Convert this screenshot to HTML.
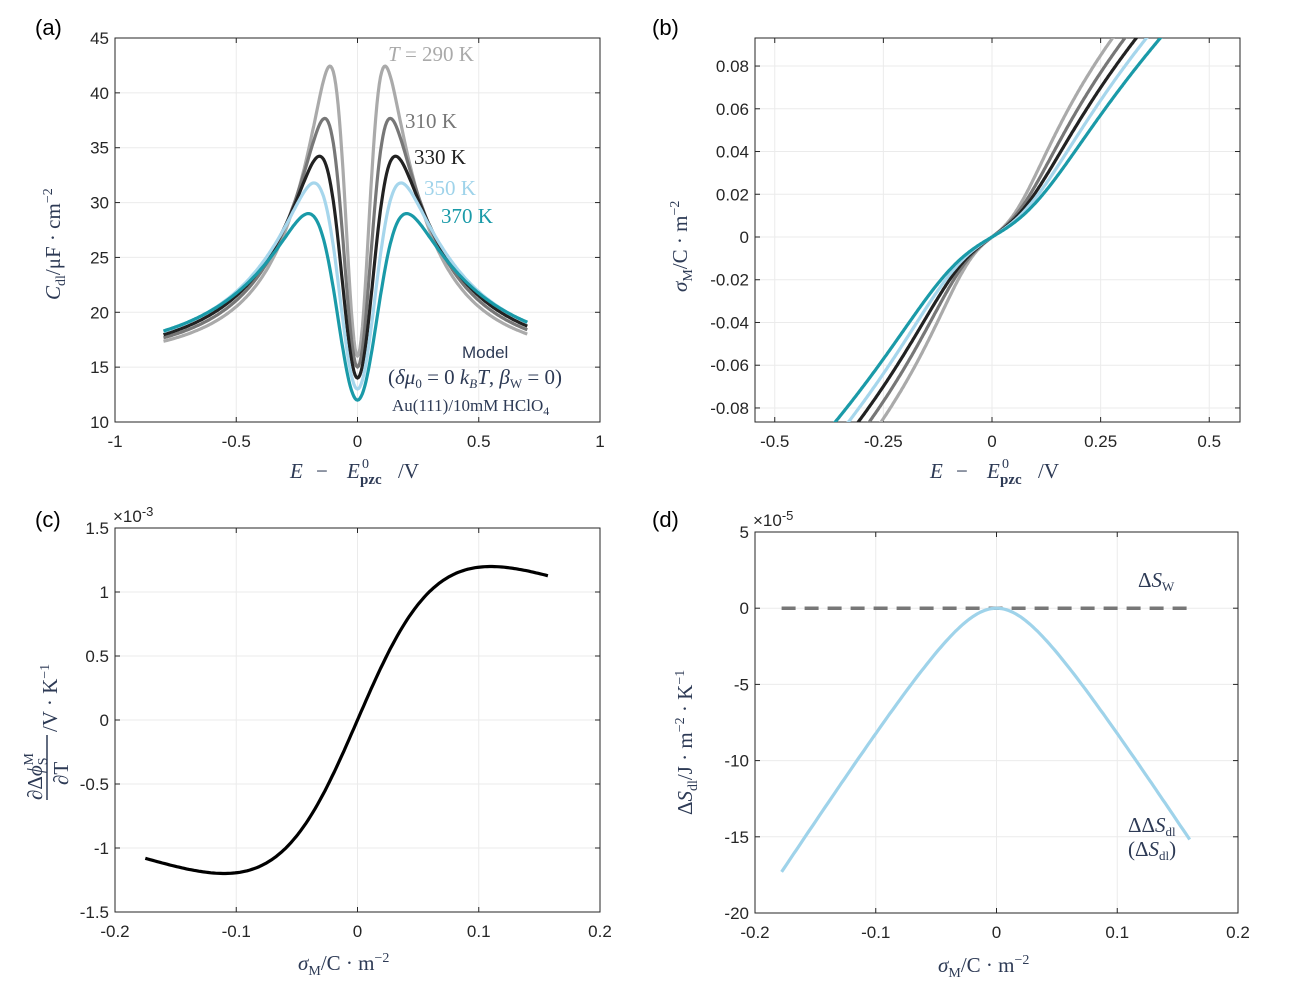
<!DOCTYPE html>
<html><head><meta charset="utf-8"><style>
body{margin:0;background:#fff;}
svg{display:block;font-family:"Liberation Sans",sans-serif;}
.t{font-size:17px;fill:#262626;}
.s{font-family:"Liberation Serif",serif;font-size:21px;fill:#2d3a55;}
.p{font-size:22px;fill:#000;}
</style></head><body>
<svg id="g" width="1301" height="991" viewBox="0 0 1301 991" xmlns="http://www.w3.org/2000/svg">
<text class="p" x="35" y="35">(a)</text>
<text class="p" x="652" y="35">(b)</text>
<text class="p" x="35" y="527">(c)</text>
<text class="p" x="652" y="527">(d)</text>
<g class="s">
<text x="290" y="478" font-style="italic">E</text><text x="316" y="478">−</text><text x="347" y="478" font-style="italic">E</text>
<text x="362" y="468" font-size="14">0</text><text x="360" y="484" font-size="15" font-weight="bold">pzc</text><text x="398" y="478">/V</text>
</g>
<g class="s">
<text x="930" y="478" font-style="italic">E</text><text x="956" y="478">−</text><text x="987" y="478" font-style="italic">E</text>
<text x="1002" y="468" font-size="14">0</text><text x="1000" y="484" font-size="15" font-weight="bold">pzc</text><text x="1038" y="478">/V</text>
</g>
<text class="s" transform="translate(60,300) rotate(-90)"><tspan font-style="italic">C</tspan><tspan font-size="14" dy="5">dl</tspan><tspan dy="-5">/μF · cm</tspan><tspan font-size="14" dy="-8">−2</tspan></text>
<text class="s" transform="translate(687,292) rotate(-90)"><tspan font-style="italic">σ</tspan><tspan font-size="14" dy="5">M</tspan><tspan dy="-5">/C · m</tspan><tspan font-size="14" dy="-8">−2</tspan></text>
<text class="s" x="298" y="970"><tspan font-style="italic">σ</tspan><tspan font-size="14" dy="5">M</tspan><tspan dy="-5">/C · m</tspan><tspan font-size="14" dy="-8">−2</tspan></text>
<text class="s" x="938" y="972"><tspan font-style="italic">σ</tspan><tspan font-size="14" dy="5">M</tspan><tspan dy="-5">/C · m</tspan><tspan font-size="14" dy="-8">−2</tspan></text>
<text class="s" transform="translate(692,815) rotate(-90)">Δ<tspan font-style="italic">S</tspan><tspan font-size="14" dy="5">dl</tspan><tspan dy="-5">/J · m</tspan><tspan font-size="14" dy="-8">−2</tspan><tspan dy="8"> · K</tspan><tspan font-size="14" dy="-8">−1</tspan></text>
<g transform="translate(42,0) rotate(-90)" class="s">
<text x="-800" y="0">∂Δ<tspan font-style="italic">ϕ</tspan><tspan font-size="14" dy="5">S</tspan><tspan font-size="14" dx="-8" dy="-14">M</tspan></text>
<line x1="-800" y1="5" x2="-735" y2="5" stroke="#2d3a55" stroke-width="1.5"/>
<text x="-785" y="26">∂T</text>
<text x="-732" y="15">/V · K<tspan font-size="14" dy="-8">−1</tspan></text>
</g>
<text class="t" x="113" y="522" font-size="15">×10<tspan dy="-6" font-size="13">-3</tspan></text>
<text class="t" x="753" y="526" font-size="15">×10<tspan dy="-6" font-size="13">-5</tspan></text>
<g class="s" font-size="19">
<text x="388" y="61" fill="#aaaaaa"><tspan font-style="italic">T</tspan> = 290 K</text>
<text x="405" y="128" fill="#777">310 K</text>
<text x="414" y="164" fill="#222">330 K</text>
<text x="424" y="195" fill="#9fd3ea">350 K</text>
<text x="441" y="223" fill="#1a9aa8">370 K</text>
<text x="462" y="358" font-family="Liberation Sans" font-size="17">Model</text>
<text x="388" y="384">(<tspan font-style="italic">δμ</tspan><tspan font-size="13" dy="4">0</tspan><tspan dy="-4"> = 0 </tspan><tspan font-style="italic">k</tspan><tspan font-size="13" dy="4" font-style="italic">B</tspan><tspan dy="-4" font-style="italic">T</tspan>, <tspan font-style="italic">β</tspan><tspan font-size="13" dy="4">W</tspan><tspan dy="-4"> = 0)</tspan></text>
<text x="392" y="411" font-size="17">Au(111)/10mM HClO<tspan font-size="12" dy="4">4</tspan></text>
<text x="1138" y="587">Δ<tspan font-style="italic">S</tspan><tspan font-size="13" dy="4">W</tspan></text>
<text x="1128" y="832">ΔΔ<tspan font-style="italic">S</tspan><tspan font-size="13" dy="4">dl</tspan></text>
<text x="1128" y="856">(Δ<tspan font-style="italic">S</tspan><tspan font-size="13" dy="4">dl</tspan><tspan dy="-4">)</tspan></text>
</g>
</svg>
<script>
var S=document.getElementById('g'),NS='http://www.w3.org/2000/svg';
function el(n,a,p){var e=document.createElementNS(NS,n);for(var k in a)e.setAttribute(k,a[k]);(p||S).appendChild(e);return e;}
function axes(o){
 var X=function(v){return o.x0+(v-o.xa)/(o.xb-o.xa)*(o.x1-o.x0)},Y=function(v){return o.y1-(v-o.ya)/(o.yb-o.ya)*(o.y1-o.y0)};
 el('rect',{x:o.x0,y:o.y0,width:o.x1-o.x0,height:o.y1-o.y0,fill:'#fff'});
 o.xt.forEach(function(t){var px=X(t[0]);el('line',{x1:px,x2:px,y1:o.y0,y2:o.y1,stroke:'#ebebeb'});
  el('line',{x1:px,x2:px,y1:o.y1,y2:o.y1-5,stroke:'#262626'});el('line',{x1:px,x2:px,y1:o.y0,y2:o.y0+5,stroke:'#262626'});
  var t2=el('text',{x:px,y:o.y1+25,'text-anchor':'middle','class':'t'});t2.textContent=t[1];});
 o.yt.forEach(function(t){var py=Y(t[0]);el('line',{x1:o.x0,x2:o.x1,y1:py,y2:py,stroke:'#ebebeb'});
  el('line',{x1:o.x0,x2:o.x0+5,y1:py,y2:py,stroke:'#262626'});el('line',{x1:o.x1,x2:o.x1-5,y1:py,y2:py,stroke:'#262626'});
  var t2=el('text',{x:o.x0-6,y:py+6,'text-anchor':'end','class':'t'});t2.textContent=t[1];});
 el('rect',{x:o.x0,y:o.y0,width:o.x1-o.x0,height:o.y1-o.y0,fill:'none',stroke:'#262626','stroke-width':1});
 o.X=X;o.Y=Y;return o;}
var id=0;
function curve(o,pts,col,w,dash){id++;var c=el('clipPath',{id:'c'+id});el('rect',{x:o.x0,y:o.y0,width:o.x1-o.x0,height:o.y1-o.y0},c);
 var d=pts.map(function(p,i){return (i?'L':'M')+o.X(p[0]).toFixed(1)+' '+o.Y(p[1]).toFixed(1)}).join('');
 var a={d:d,fill:'none',stroke:col,'stroke-width':w,'clip-path':'url(#c'+id+')','stroke-linejoin':'round'};if(dash)a['stroke-dasharray']=dash;el('path',a);}
var A=axes({x0:115,x1:600,y0:38,y1:422,xa:-1,xb:1,ya:10,yb:45,
 xt:[[-1,'-1'],[-0.5,'-0.5'],[0,'0'],[0.5,'0.5'],[1,'1']],yt:[[10,'10'],[15,'15'],[20,'20'],[25,'25'],[30,'30'],[35,'35'],[40,'40'],[45,'45']]});
var B=axes({x0:755,x1:1240,y0:38,y1:422,xa:(755-992)/434.5,xb:(1240-992)/434.5,ya:(237-422)/2137,yb:(237-38)/2137,
 xt:[[-0.5,'-0.5'],[-0.25,'-0.25'],[0,'0'],[0.25,'0.25'],[0.5,'0.5']],
 yt:[[-0.08,'-0.08'],[-0.06,'-0.06'],[-0.04,'-0.04'],[-0.02,'-0.02'],[0,'0'],[0.02,'0.02'],[0.04,'0.04'],[0.06,'0.06'],[0.08,'0.08']]});
var C=axes({x0:115,x1:600,y0:528,y1:912,xa:-0.2,xb:0.2,ya:-1.5,yb:1.5,
 xt:[[-0.2,'-0.2'],[-0.1,'-0.1'],[0,'0'],[0.1,'0.1'],[0.2,'0.2']],yt:[[-1.5,'-1.5'],[-1,'-1'],[-0.5,'-0.5'],[0,'0'],[0.5,'0.5'],[1,'1'],[1.5,'1.5']]});
var D=axes({x0:755,x1:1238,y0:532,y1:913,xa:-0.2,xb:0.2,ya:-20,yb:5,
 xt:[[-0.2,'-0.2'],[-0.1,'-0.1'],[0,'0'],[0.1,'0.1'],[0.2,'0.2']],yt:[[-20,'-20'],[-15,'-15'],[-10,'-10'],[-5,'-5'],[0,'0'],[5,'5']]});
var cols=['#aaaaaa','#777777','#222222','#a6d6ec','#1a9aa8'];
var AMs=[40,33,28,24.5,20.5],MINs=[16,15,14,13,12];
for(var i=0;i<5;i++){var f=i/4;
 var w=0.2+0.15*f,Am=AMs[i],Dd=15+Am-MINs[i],s=0.07+0.05*f;
 var Cf=function(E){return 15+Am/(1+(E/w)*(E/w))-Dd*Math.exp(-(E/s)*(E/s));};
 var pts=[];for(var E=-0.8;E<=0.7001;E+=0.005)pts.push([E,Cf(E)]);
 curve(A,pts,cols[i],3.2);
 var sg=0,h=0.002,q=[];for(var E=0;E<=0.6;E+=h){q.push([E,sg]);sg+=0.01*h*Cf(E+h/2);}
 sg=0;var n=[];for(var E=0;E>=-0.6;E-=h){n.push([E,sg]);sg-=0.01*h*Cf(E-h/2);}
 curve(B,n.reverse().concat(q),cols[i],3.2);}
var pc=[];for(var x=-0.175;x<=0.1571;x+=0.002)pc.push([x,21.8*x/(1+(x/0.11)*(x/0.11))]);curve(C,pc,'#000',3.2);
curve(D,[[-0.178,0],[0.16,0]],'#777',3.5,'14 9');
var pd=[];for(var x=-0.178;x<=0.1601;x+=0.002)pd.push([x,-121.5*(Math.sqrt(x*x+0.0016)-0.04)]);curve(D,pd,'#9fd3ea',3.2);
Array.prototype.slice.call(S.querySelectorAll(':scope > text, :scope > g')).forEach(function(t){S.appendChild(t);});
</script>
</body></html>
